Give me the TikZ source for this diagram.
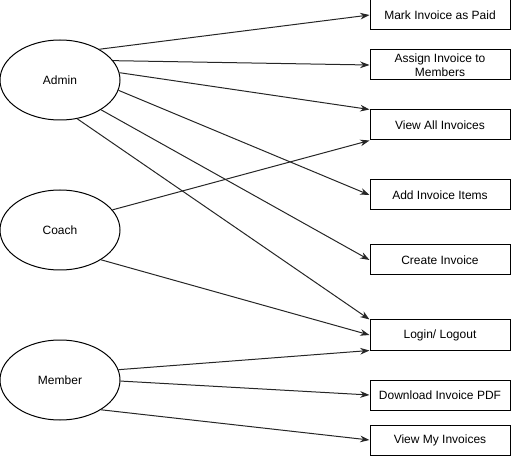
\documentclass[tikz,border=0pt]{standalone}
\usepackage{fontspec}
\setmainfont{Liberation Sans}
\usetikzlibrary{arrows.meta, positioning, shapes.geometric}

\begin{document}
\begin{tikzpicture}[
    x=0.75pt, y=-0.75pt,
    actor/.style={ellipse, draw, line width=0.75pt, minimum width=90pt,
                  minimum height=60pt, inner sep=0pt, font=\fontsize{9}{11}\selectfont},
    usecase/.style={rectangle, draw, line width=0.75pt, minimum width=105pt,
                    minimum height=22.5pt, align=center, inner sep=2pt,
                    font=\fontsize{9}{10.5}\selectfont},
    link/.style={line width=0.75pt, draw=black!85, -{Stealth[length=7pt, width=5pt]}},
  ]
    \useasboundingbox (0,0) rectangle (511,456);

    % actors
    \node[actor] (admin) at (60,80) {Admin};
    \node[actor] (coach) at (60,230) {Coach};
    \node[actor] (member) at (60,380) {Member};

    % use cases
    \node[usecase] (paid) at (440,15) {Mark Invoice as Paid};
    \node[usecase] (assign) at (440,65) {Assign Invoice to\\Members};
    \node[usecase] (viewall) at (440,125) {View All Invoices};
    \node[usecase] (additems) at (440,195) {Add Invoice Items};
    \node[usecase] (create) at (440,260) {Create Invoice};
    \node[usecase] (login) at (440,335) {Login/ Logout};
    \node[usecase] (pdf) at (440,395) {Download Invoice PDF};
    \node[usecase] (viewmine) at (440,440) {View My Invoices};

    % admin
    \draw[link] (admin.38) -- (paid.west);
    \draw[link] (admin.20) -- (assign.west);
    \draw[link] (admin.7) -- (viewall.north west);
    \draw[link] (admin.-10) -- (additems.west);
    \draw[link] (admin.-36) -- (create.west);
    \draw[link] (admin.-66) -- (login.north west);

    % coach
    \draw[link] (coach.21) -- (viewall.south west);
    \draw[link] (coach.-36) -- (login.west);

    % member
    \draw[link] (member.10) -- (login.south west);
    \draw[link] (member.-1) -- (pdf.west);
    \draw[link] (member.-36) -- (viewmine.west);
  \end{tikzpicture}
\end{document}
